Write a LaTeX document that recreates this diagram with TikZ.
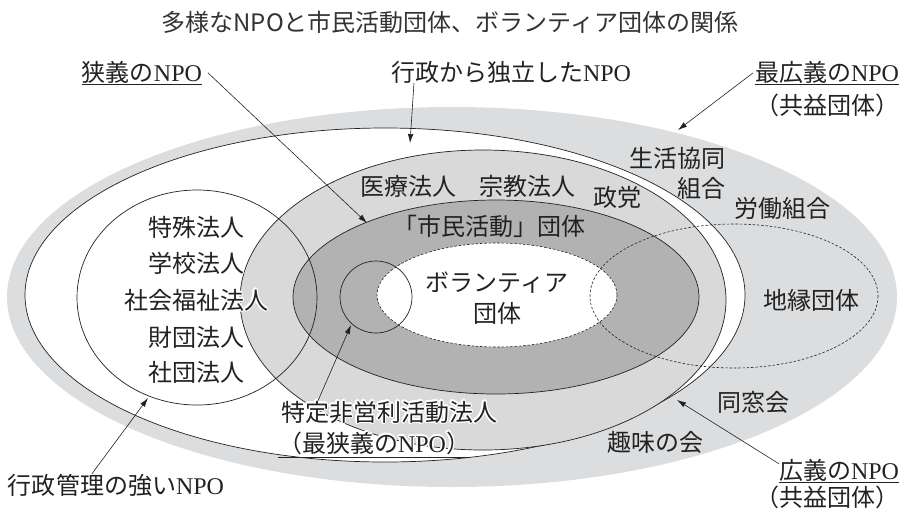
\documentclass[tikz,border=0pt]{standalone}
\usepackage{fontspec}
\setmainfont{Noto Sans CJK JP}
\newfontfamily\lat{Liberation Serif}
\usepackage{contour}
\contourlength{1.4pt}
\usetikzlibrary{arrows.meta}
\definecolor{ringgray}{HTML}{DCDDDF}
\definecolor{lgray}{HTML}{D9D9D9}
\definecolor{dgray}{HTML}{B2B2B2}
\definecolor{inkc}{HTML}{222222}
\definecolor{titlec}{HTML}{333333}
\begin{document}
\begin{tikzpicture}[x=1pt,y=-1pt,
  font=\fontsize{24}{27}\selectfont,
  txt/.style={inner sep=0pt, outer sep=0pt, anchor=base, text=inkc},
  arr/.style={-{Latex[length=9pt,width=5.5pt]}, line width=0.6pt, draw=inkc},
  bdr/.style={line width=0.7pt, draw=inkc},
  dsh/.style={line width=0.6pt, draw=inkc, dash pattern=on 2.5pt off 1.8pt}]
\useasboundingbox (0,0) rectangle (901,512);
% ellipses
\fill[ringgray] (452,297) ellipse [x radius=445, y radius=190];
\filldraw[fill=white, bdr] (385,295) ellipse [x radius=360, y radius=167];
\filldraw[fill=lgray, bdr] (483,300) ellipse [x radius=243, y radius=150];
\filldraw[fill=dgray, bdr] (496,297) ellipse [x radius=203, y radius=97];
\filldraw[fill=white, dsh] (497,295) ellipse [x radius=120, y radius=52];
\draw[bdr] (197,297.5) ellipse [x radius=120, y radius=107.5];
\draw[bdr] (376,297) circle [radius=36];
\draw[dsh] (734,296) ellipse [x radius=144, y radius=72];
% title
\node[inner sep=0pt, anchor=base, text=titlec, font=\fontsize{24}{27}\selectfont] (title) at (450,31) {多様なNPOと市民活動団体、ボランティア団体の関係};
% outer labels
\node[txt] (nar) at (142,81) {\underline{狭義の{\lat NPO}}};
\node[txt] (ind) at (511,81) {行政から独立した{\lat NPO}};
\node[txt, anchor=base east] (w1) at (899,81) {\underline{最広義の{\lat NPO}}};
\node[txt, anchor=base east] (w2) at (899,114) {（共益団体）};
\node[txt, anchor=base east] (b1) at (899,479) {\underline{広義の{\lat NPO}}};
\node[txt, anchor=base east] (b2) at (899,506) {（共益団体）};
\node[txt, anchor=base west] (adm) at (8,494) {行政管理の強い{\lat NPO}};
\node[txt, anchor=base west] (sp1) at (281,421) {\contour{white}{特定非営利活動法人}};
\node[txt, anchor=base west] (sp2) at (278,452) {\underline{\contour{white}{（最狭義の{\lat NPO}）}}};
% inner labels
\node[txt] (iryo) at (408,195) {医療法人};
\node[txt] (shukyo) at (527,195) {宗教法人};
\node[txt] (seito) at (617,206) {政党};
\node[txt, anchor=base east] (seik1) at (725,167) {生活協同};
\node[txt, anchor=base east] (seik2) at (725,197) {組合};
\node[txt] (rodo) at (782,217) {労働組合};
\node[txt] (shimin) at (489,235) {「市民活動」団体};
\node[txt] (vol1) at (497,291) {ボランティア};
\node[txt] (vol2) at (497,322) {団体};
\node[txt] (l1) at (196,236) {\contour{white}{特殊法人}};
\node[txt] (l2) at (196,272) {\contour{white}{学校法人}};
\node[txt] (l3) at (196,309) {\contour{white}{社会福祉法人}};
\node[txt] (l4) at (196,346) {\contour{white}{財団法人}};
\node[txt] (l5) at (196,381) {\contour{white}{社団法人}};
\node[txt] (chien) at (811,309) {地縁団体};
\node[txt] (doso) at (753,411) {同窓会};
\node[txt] (shumi) at (655,451) {趣味の会};
% arrow targets
\coordinate (tInd) at (410,143);
\coordinate (tNar) at (367,223);
\coordinate (tW) at (678,130);
\coordinate (tB) at (677,400);
\coordinate (tSp) at (351,325);
\coordinate (tAdm) at (148,398);
% arrows
\draw[arr] ([xshift=23pt]ind.south west) -- (tInd);
\draw[arr] ([xshift=6pt]nar.east) -- (tNar);
\draw[arr] ([xshift=-2pt]w1.west) -- (tW);
\draw[arr] ([yshift=-5pt]b1.north west) -- (tB);
\draw[arr] ([xshift=37pt]sp1.north west) -- (tSp);
\draw[arr] ([xshift=84pt]adm.north west) -- (tAdm);
\end{tikzpicture}
\end{document}
